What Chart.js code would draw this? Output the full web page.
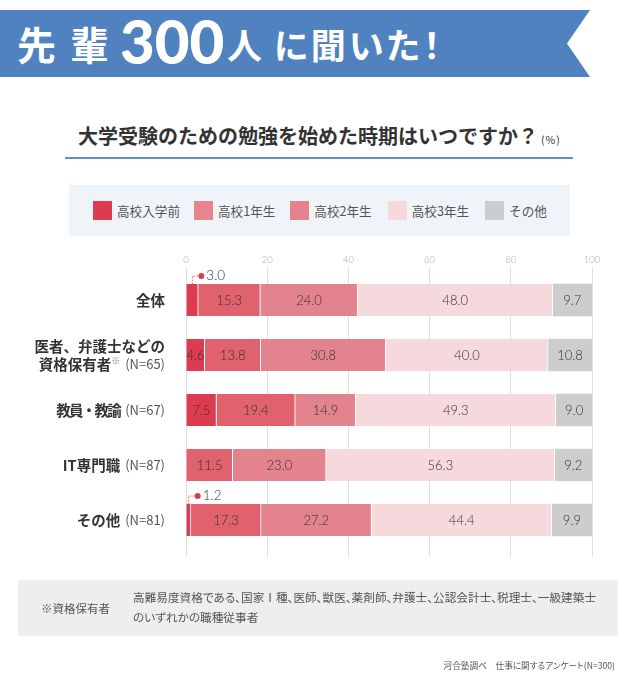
<!DOCTYPE html>
<html lang="ja">
<head>
<meta charset="utf-8">
<title>先輩300人に聞いた!</title>
<script src="https://cdn.jsdelivr.net/npm/chart.js@4"></script>
<style>
  html, body { margin: 0; padding: 0; background: #fff; }
  body { position: relative; width: 640px; height: 685px; overflow: hidden; font-family: "Noto Sans CJK JP", sans-serif; color: #444; }
  #board { position: absolute; left: 0; top: 0; }
  .abs { position: absolute; white-space: nowrap; }
  .palt { font-feature-settings: "palt"; }
  #banner { left: 0; top: 10px; width: 590px; height: 67px; background: #5082c0; clip-path: polygon(0 0, 100% 0, 567px 50%, 100% 100%, 0 100%); }
  .bannerText { top: 10px; height: 67px; line-height: 67px; color: #fff; font-weight: 700; }
  #b1 { left: 17px; font-size: 39px; letter-spacing: 14px; }
  #b2 { left: 120px; font-family: Lato, sans-serif; font-weight: 900; font-size: 60px; top: 8px; }
  #b3 { left: 227px; font-size: 35px; }
  #b4 { left: 274px; font-size: 35px; letter-spacing: 3px; }
  #title { left: 78px; top: 122px; line-height: 28px; font-size: 20px; font-weight: 700; color: #333; }
  #title small { font-size: 10.5px; font-weight: 400; margin-left: 3px; letter-spacing: 1px; }
  #rule { left: 65px; top: 157px; width: 508px; height: 2px; background: #5f8ec8; }
  #legend { left: 69px; top: 185px; width: 501px; height: 51px; background: #eef4f8; display: flex; align-items: center; padding-left: 24px; box-sizing: border-box; font-size: 12.6px; color: #555; }
  #legend i { display: block; width: 19px; height: 19px; margin-right: 5px; }
  #legend span { margin-right: 14px; }
  #legend span:nth-of-type(2) { margin-right: 15px; }
  #legend span:nth-of-type(3), #legend span:nth-of-type(4) { margin-right: 16px; }
  #note { left: 18px; top: 580px; width: 600px; height: 56px; background: #eeeeee; }
  #noteHead { left: 41px; top: 598px; line-height: 20px; font-size: 11.5px; color: #555; }
  #noteBody { left: 133px; top: 587px; line-height: 20px; font-size: 11.65px; color: #555; }
  #source { right: 25px; top: 658px; line-height: 14px; font-size: 8.65px; color: #555; }
</style>
</head>
<body>
<div class="abs" id="banner"></div>
<div class="abs bannerText" id="b1">先輩</div>
<div class="abs bannerText" id="b2">300</div>
<div class="abs bannerText" id="b3">人</div>
<div class="abs bannerText palt" id="b4">に聞いた！</div>
<div class="abs" id="title">大学受験のための勉強を始めた時期はいつですか？<small>(%)</small></div>
<div class="abs" id="rule"></div>
<div class="abs" id="legend"></div>
<div class="abs" id="note"></div>
<canvas id="board" width="640" height="685"></canvas>
<div class="abs" id="noteHead">※資格保有者</div>
<div class="abs palt" id="noteBody">高難易度資格である、国家Ⅰ種、医師、獣医、薬剤師、弁護士、公認会計士、税理士、一級建築士<br>のいずれかの職種従事者</div>
<div class="abs palt" id="source">河合塾調べ　仕事に関するアンケート(N=300)</div>
<script>
// data
const categories = ["全体", "医者、弁護士などの資格保有者", "教員・教諭", "IT専門職", "その他"];
const categoryLines = [["全体"], ["医者、弁護士などの", "資格保有者"], ["教員・教諭"], ["IT専門職"], ["その他"]];
const sampleSizes = [null, 65, 67, 87, 81];
const seriesNames = ["高校入学前", "高校1年生", "高校2年生", "高校3年生", "その他"];
const beforeEntry = [3.0, 4.6, 7.5, null, 1.2];
const firstYear = [15.3, 13.8, 19.4, 11.5, 17.3];
const secondYear = [24.0, 30.8, 14.9, 23.0, 27.2];
const thirdYear = [48.0, 40.0, 49.3, 56.3, 44.4];
const other = [9.7, 10.8, 9.0, 9.2, 9.9];
const seriesValues = [beforeEntry, firstYear, secondYear, thirdYear, other];
const barColors = ["#dd3b4f", "#e0626e", "#e2838d", "#f5d9dc", "#cdcdcd"];
const legendColors = ["#dd3b4f", "#e5868f", "#e2838d", "#f5d9dc", "#cdcdcd"];
const xTicks = [0, 20, 40, 60, 80, 100];

const FONT = '"Noto Sans CJK JP", sans-serif';
const NUM_FONT = 'Lato, "Noto Sans CJK JP", sans-serif';

// legend
let legend = document.getElementById("legend");
seriesNames.forEach(function (name, i) {
  let swatch = document.createElement("i");
  swatch.style.background = legendColors[i];
  let label = document.createElement("span");
  label.innerText = name;
  legend.appendChild(swatch);
  legend.appendChild(label);
});

// row names on the left, bold name then the thin (N=..)
const rowLabels = {
  id: "rowLabels",
  afterDraw: function (chart) {
    const c = chart.ctx;
    const right = 165;
    c.save();
    c.textBaseline = "middle";
    categoryLines.forEach(function (lines, i) {
      let mid = chart.scales.y.getPixelForTick(i);
      lines.forEach(function (line, j) {
        let y = mid + (j - (lines.length - 1) / 2) * 18;
        let x = right;
        c.textAlign = "right";
        if (j == lines.length - 1 && sampleSizes[i] != null) {
          c.font = "400 13px " + FONT;
          c.fillStyle = "#555";
          let n = "(N=" + sampleSizes[i] + ")";
          c.fillText(n, x, y);
          x -= c.measureText(n).width + 5;
        }
        if (lines.length > 1 && j == 1) {
          c.font = "400 9px " + FONT;
          c.fillStyle = "#777";
          c.fillText("※", x, y - 3);
          x -= c.measureText("※").width;
        }
        c.font = "700 14.5px " + FONT;
        c.fillStyle = "#333";
        // the nakaguro is set tight in the original
        c.letterSpacing = line.includes("・") ? "-1.7px" : "0px";
        c.fillText(line, x, y);
        c.letterSpacing = "0px";
      });
    });
    c.restore();
  }
};

// numbers inside the bars, tiny ones get a dotted leader above the bar
const barValues = {
  id: "barValues",
  afterDatasetsDraw: function (chart) {
    const c = chart.ctx;
    c.save();
    c.textBaseline = "middle";
    seriesValues.forEach(function (values, s) {
      let bars = chart.getDatasetMeta(s).data;
      values.forEach(function (v, i) {
        if (v == null) return;
        let bar = bars[i];
        let mid = (bar.x + bar.base) / 2;
        if (v < 4) {
          let top = bar.y - 16;
          let lineY = top - 8;
          let dotX = mid + 9;
          c.strokeStyle = "#e25b6b";
          c.lineWidth = 1;
          c.setLineDash([1.5, 1.5]);
          c.beginPath();
          c.moveTo(mid, top);
          c.lineTo(mid, lineY);
          c.lineTo(dotX, lineY);
          c.stroke();
          c.setLineDash([]);
          c.fillStyle = "#dd3b4f";
          c.beginPath();
          c.arc(dotX, lineY, 3, 0, Math.PI * 2);
          c.fill();
          c.textAlign = "left";
          c.fillStyle = "#333";
          c.font = "300 13.5px " + NUM_FONT;
          c.fillText(v.toFixed(1), dotX + 5, lineY);
        } else {
          c.textAlign = "center";
          c.fillStyle = "#333";
          c.font = "300 13px " + NUM_FONT;
          c.fillText(v.toFixed(1), mid, bar.y + 1);
        }
      });
    });
    c.restore();
  }
};

function setXTicks(scale) {
  scale.ticks = xTicks.map(function (v) { return { value: v }; });
}

const ctx = document.getElementById("board").getContext("2d");
new Chart(ctx, {
  type: "bar",
  data: {
    labels: categories,
    datasets: seriesValues.map(function (values, i) {
      return {
        label: seriesNames[i],
        data: values,
        backgroundColor: barColors[i],
        borderColor: "#fff",
        borderWidth: i == 4 ? 0 : { right: 1 },
        borderSkipped: false,
        barThickness: 32
      };
    })
  },
  options: {
    indexAxis: "y",
    responsive: false,
    animation: false,
    layout: { padding: { left: 186, right: 48, top: 0, bottom: 128 } },
    plugins: { legend: { display: false }, tooltip: { enabled: false } },
    scales: {
      x: {
        position: "top",
        stacked: true,
        min: 0,
        max: 100,
        afterFit: function (scale) { scale.height = 272.5; },
        afterBuildTicks: setXTicks,
        border: { display: false },
        grid: { color: "#dedede", lineWidth: 1, tickLength: 5 },
        ticks: { color: "#aaa", padding: 2, maxRotation: 0, font: { size: 9.5, weight: 300, family: NUM_FONT } }
      },
      // empty axis below the bars, only its tick marks carry the grid lines on down
      xLow: {
        type: "linear",
        axis: "x",
        position: "bottom",
        min: 0,
        max: 100,
        afterFit: function (scale) { scale.height = 9.5; },
        afterBuildTicks: setXTicks,
        border: { display: false },
        grid: { color: "#dedede", lineWidth: 1, tickLength: 9.5, drawOnChartArea: false },
        ticks: { padding: 0, callback: function () { return ""; } }
      },
      y: {
        stacked: true,
        afterFit: function (scale) { scale.width = 0; },
        border: { display: false },
        grid: { display: false },
        ticks: { display: false }
      }
    }
  },
  plugins: [rowLabels, barValues]
});
</script>
</body>
</html>
